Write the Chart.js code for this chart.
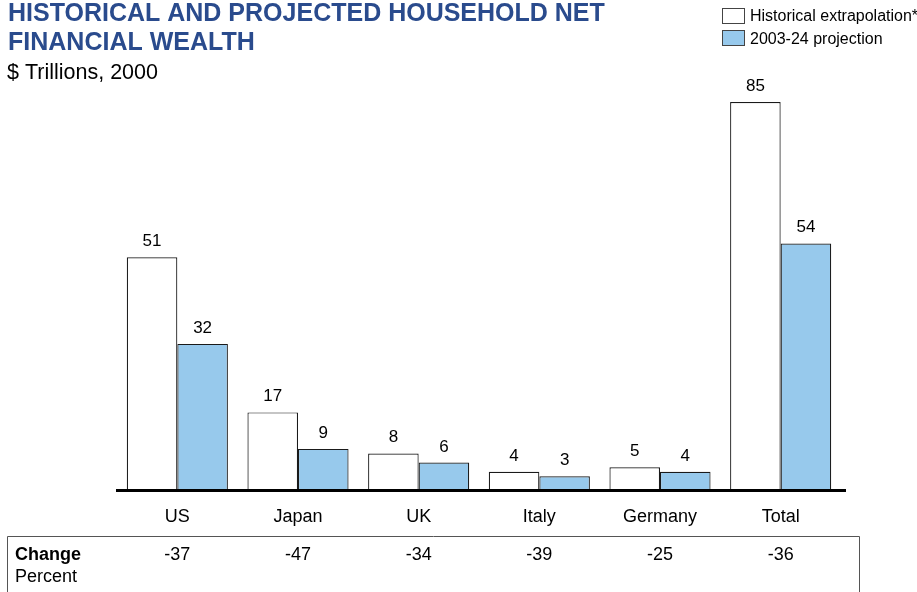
<!DOCTYPE html>
<html><head><meta charset="utf-8">
<script src="https://cdn.jsdelivr.net/npm/chart.js@4/dist/chart.umd.min.js"></script>
<style>html,body{margin:0;padding:0;background:#fff}#wrap{width:917px;height:592px;position:relative}</style>
</head><body><div id="wrap"><canvas id="c" width="917" height="592"></canvas></div>
<script>
const categories = ["US", "Japan", "UK", "Italy", "Germany", "Total"];
const historical = [51, 17, 8, 4, 5, 85];
const projection = [32, 9, 6, 3, 4, 54];
const changePercent = ["-37", "-47", "-34", "-39", "-25", "-36"];
const seriesNames = ["Historical extrapolation*", "2003-24 projection"];

const FONT = '"Liberation Sans", Arial, sans-serif';
const BLUE = '#97c9ec';

const overlay = {
  id: 'overlay',
  afterDatasetsDraw(chart) {
    const ctx = chart.ctx;
    const xs = chart.scales.x, ys = chart.scales.y;
    const base = ys.getPixelForValue(0);
    ctx.save();
    // title
    ctx.fillStyle = '#2a4b8d';
    ctx.font = 'bold 25px ' + FONT;
    ctx.textBaseline = 'alphabetic';
    ctx.textAlign = 'left';
    ctx.fillText('HISTORICAL AND PROJECTED HOUSEHOLD NET', 8, 21);
    ctx.fillText('FINANCIAL WEALTH', 8, 50);
    ctx.fillStyle = '#000';
    ctx.font = '21.5px ' + FONT;
    ctx.fillText('$ Trillions, 2000', 7, 79);
    // legend
    ctx.font = '16px ' + FONT;
    ctx.lineWidth = 1;
    ctx.strokeStyle = '#444';
    ctx.fillStyle = '#fff';
    ctx.fillRect(722.5, 8.5, 22, 15); ctx.strokeRect(722.5, 8.5, 22, 15);
    ctx.fillStyle = BLUE;
    ctx.fillRect(722.5, 30.5, 22, 15); ctx.strokeRect(722.5, 30.5, 22, 15);
    ctx.fillStyle = '#000';
    ctx.fillText(seriesNames[0], 750, 21);
    ctx.fillText(seriesNames[1], 750, 44);
    // baseline
    ctx.strokeStyle = '#000';
    ctx.lineWidth = 3;
    ctx.beginPath(); ctx.moveTo(116, base + 0.5); ctx.lineTo(846, base + 0.5); ctx.stroke();
    // value labels
    ctx.font = '17px ' + FONT;
    ctx.textAlign = 'center';
    chart.data.datasets.forEach((ds, di) => {
      const meta = chart.getDatasetMeta(di);
      meta.data.forEach((bar, i) => {
        ctx.fillText(String(ds.data[i]), bar.x, bar.y - 11);
      });
    });
    // category labels
    ctx.font = '18px ' + FONT;
    categories.forEach((c, i) => {
      ctx.fillText(c, xs.getPixelForValue(i), 522);
    });
    // table
    ctx.strokeStyle = '#555';
    ctx.lineWidth = 1;
    ctx.beginPath();
    ctx.moveTo(7.5, 600); ctx.lineTo(7.5, 536.5); ctx.lineTo(859.5, 536.5); ctx.lineTo(859.5, 600);
    ctx.stroke();
    ctx.textAlign = 'left';
    ctx.font = 'bold 18px ' + FONT;
    ctx.fillText('Change', 15, 560);
    ctx.font = '18px ' + FONT;
    ctx.fillText('Percent', 15, 582);
    ctx.textAlign = 'center';
    changePercent.forEach((v, i) => {
      ctx.fillText(v, xs.getPixelForValue(i), 560);
    });
    ctx.restore();
  }
};

new Chart(document.getElementById('c'), {
  type: 'bar',
  data: {
    labels: categories,
    datasets: [
      { label: seriesNames[0], data: historical, backgroundColor: '#ffffff', borderColor: '#1a1a1a', borderWidth: 1.2 },
      { label: seriesNames[1], data: projection, backgroundColor: BLUE, borderColor: '#1a1a1a', borderWidth: 1.2 }
    ]
  },
  options: {
    responsive: false,
    animation: false,
    devicePixelRatio: 1,
    layout: { padding: { left: 117, right: 76, top: 33.5, bottom: 102 } },
    datasets: { bar: { categoryPercentage: 0.838, barPercentage: 1 } },
    scales: {
      x: { display: false },
      y: { display: false, min: 0, max: 100 }
    },
    plugins: { legend: { display: false }, tooltip: { enabled: false } }
  },
  plugins: [overlay]
});
</script></body></html>
